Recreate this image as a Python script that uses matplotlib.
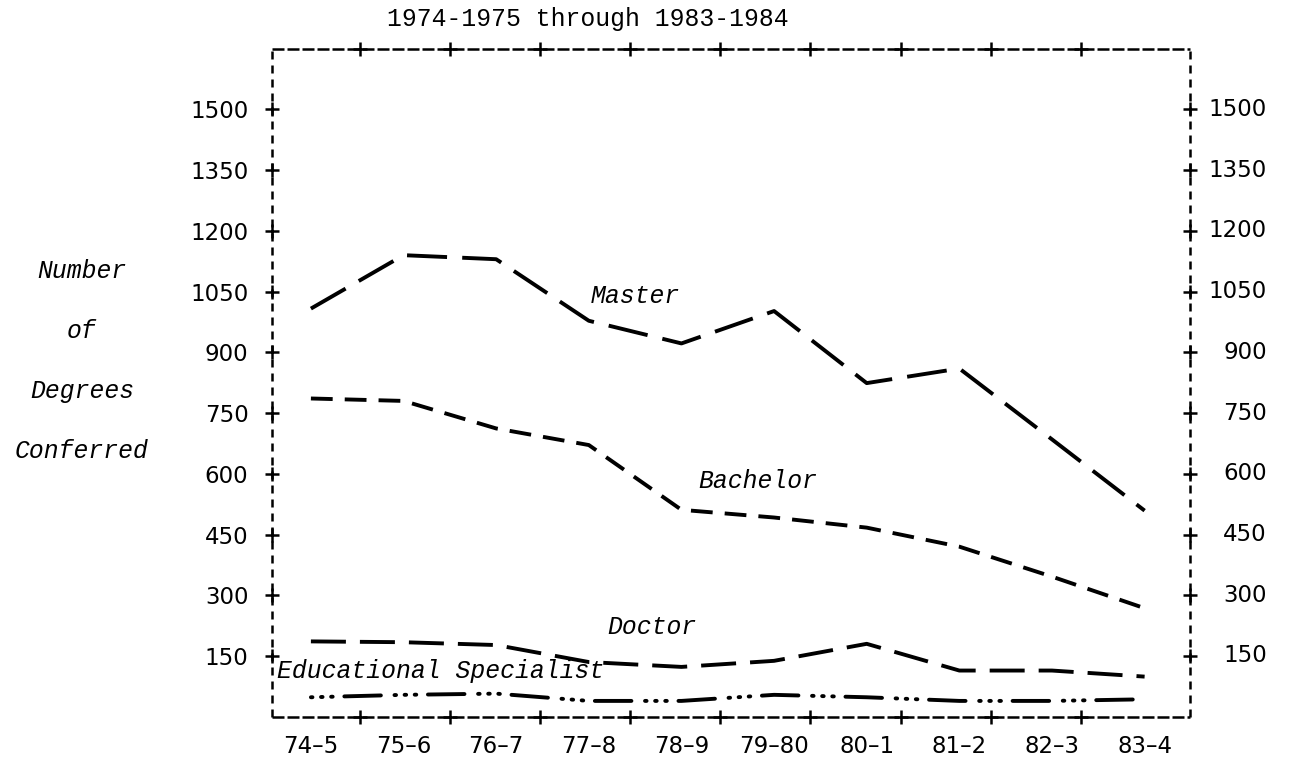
import numpy as np
import matplotlib
matplotlib.use('Agg')
import matplotlib.pyplot as plt

# degrees conferred per academic year
years = ['74–5', '75–6', '76–7', '77–8', '78–9', '79–80', '80–1', '81–2', '82–3', '83–4']
master = [1008, 1140, 1130, 978, 922, 1002, 824, 860, 685, 509]
bachelor = [786, 780, 712, 671, 511, 492, 467, 420, 346, 268]
doctor = [186, 184, 177, 135, 123, 138, 180, 114, 114, 99]
ed_spec = [48, 54, 57, 39, 39, 54, 48, 39, 39, 43]
yticks = [150, 300, 450, 600, 750, 900, 1050, 1200, 1350, 1500]

mono = 'Liberation Mono'

fig = plt.figure(figsize=(12.89, 7.59), dpi=100)
ax = fig.add_axes([272 / 1289, 1 - 716.7 / 759, 918 / 1289, 668 / 759])
ax.set_xlim(-0.42, 9.49)
ax.set_ylim(0, 1650)
for s in ax.spines.values():
    s.set_visible(False)

x = np.arange(len(years))
ax.plot(x, master, color='black', lw=2.8, linestyle=(0, (10.3, 3.9)))
ax.plot(x, bachelor, color='black', lw=2.8, linestyle=(0, (5.6, 3.1)))
ax.plot(x, doctor, color='black', lw=2.8, linestyle=(0, (9, 3.6)))
ax.plot(x, ed_spec, color='black', lw=2.8, dash_capstyle='round',
        linestyle=(0, (0.4, 2.2, 0.4, 2.2, 0.4, 3.0, 9.4, 3.5)))

# dashed frame, like the printer output
tr = ax.transAxes
ax.plot([0, 1], [1, 1], transform=tr, color='black', lw=1.8,
        linestyle=(0, (4.8, 1.2)), clip_on=False)
ax.plot([0, 1], [0, 0], transform=tr, color='black', lw=1.8,
        linestyle=(0, (4.8, 1.2)), clip_on=False)
ax.plot([0, 0], [0, 1], transform=tr, color='black', lw=1.8,
        linestyle=(0, (3.2, 2.4)), clip_on=False)
ax.plot([1, 1], [0, 1], transform=tr, color='black', lw=1.8,
        linestyle=(0, (3.2, 2.4)), clip_on=False)

# "+" tick marks on the frame
xplus = np.arange(9) * 0.9725 + 0.53
ax.plot(xplus, [0] * 9, '+', color='black', ms=9.5, mew=1.8, clip_on=False)
ax.plot(xplus, [1650] * 9, '+', color='black', ms=9.5, mew=1.8, clip_on=False)
ax.plot([-0.42] * len(yticks), yticks, '+', color='black', ms=9.5, mew=1.8, clip_on=False)
ax.plot([9.49] * len(yticks), yticks, '+', color='black', ms=9.5, mew=1.8, clip_on=False)

ax.set_xticks(x, years)
ax.set_yticks(yticks, [str(v) for v in yticks])
ax.tick_params(axis='x', length=0, pad=13, labelsize=16.5)
ax.tick_params(axis='y', length=0, pad=17, labelsize=16.5)

# right side labels, right aligned
for v in yticks:
    ax.annotate(str(v), xy=(1, v), xycoords=('axes fraction', 'data'),
                xytext=(55.4, 0), textcoords='offset points',
                ha='right', va='center', fontsize=16.5)

# curve labels
ax.text(3.02, 1021, 'Master', family=mono, style='italic', fontsize=17.8, va='baseline')
ax.text(4.18, 566, 'Bachelor', family=mono, style='italic', fontsize=17.8, va='baseline')
ax.text(3.20, 204, 'Doctor', family=mono, style='italic', fontsize=17.8, va='baseline')
ax.text(-0.37, 96, 'Educational Specialist', family=mono, style='italic',
        fontsize=17.8, va='baseline')

# y-axis title, one word per line
for word, yb in zip(['Number', 'of', 'Degrees', 'Conferred'], [278, 338, 398, 458]):
    fig.text(82 / 1289, 1 - yb / 759, word, family=mono, style='italic',
             fontsize=17.8, ha='center', va='baseline')

fig.text(588 / 1289, 1 - 19 / 759, '1974-1975 through 1983-1984', family=mono,
         fontsize=17.8, ha='center', va='center')

fig.savefig('out.png', dpi=100)
